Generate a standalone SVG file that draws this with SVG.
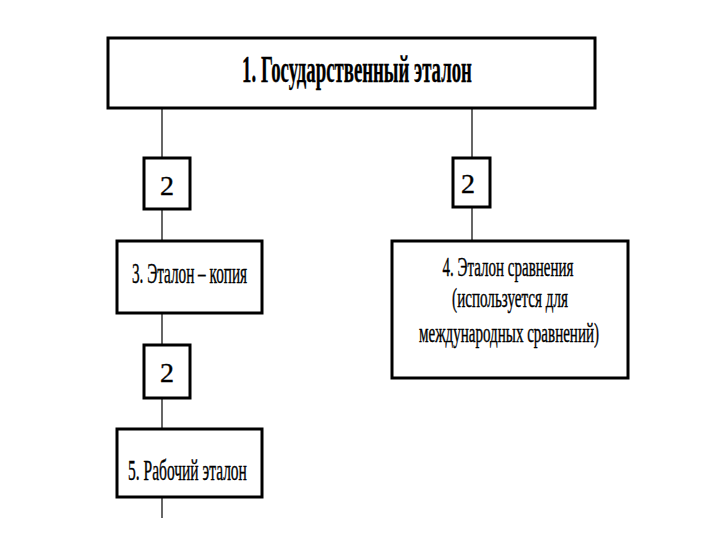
<svg xmlns="http://www.w3.org/2000/svg" width="720" height="540" viewBox="0 0 720 540">
<style>
.box{fill:#fff;stroke:#000;stroke-width:3}
.ln{stroke:#000;stroke-width:1.2;fill:none}
text{font-family:"Liberation Serif","Times New Roman",serif;fill:#000;text-anchor:middle;stroke:#000;stroke-width:0.4}
</style>
<rect width="720" height="540" fill="#fff"/>
<g id="connectors">
<line class="ln" x1="162" y1="108" x2="162" y2="158"/>
<line class="ln" x1="162" y1="209" x2="162" y2="241"/>
<line class="ln" x1="162" y1="313" x2="162" y2="345"/>
<line class="ln" x1="162" y1="398" x2="162" y2="429"/>
<line class="ln" x1="162" y1="497" x2="162" y2="518"/>
<line class="ln" x1="472" y1="108" x2="472" y2="158"/>
<line class="ln" x1="472" y1="207" x2="472" y2="241"/>
</g>
<g id="n1">
<rect class="box" x="108" y="38" width="487" height="70"/>
<text transform="translate(357,82) scale(0.6,1)" x="0" y="0" font-size="37" font-weight="bold" textLength="383" lengthAdjust="spacingAndGlyphs">1. Государственный эталон</text>
</g>
<g id="n2a">
<rect class="box" x="144" y="158" width="46" height="51"/>
<text x="167" y="195" font-size="28">2</text>
</g>
<g id="n2b">
<rect class="box" x="453" y="158" width="37" height="49"/>
<text x="468" y="193" font-size="28">2</text>
</g>
<g id="n3">
<rect class="box" x="117" y="241" width="145" height="72"/>
<text transform="translate(189.5,283) scale(0.6,1)" x="0" y="0" font-size="29" textLength="192" lengthAdjust="spacingAndGlyphs">3. Эталон – копия</text>
</g>
<g id="n4">
<rect class="box" x="392" y="241" width="236" height="137"/>
<text transform="translate(508,276) scale(0.6,1)" x="0" y="0" font-size="28" textLength="218" lengthAdjust="spacingAndGlyphs">4. Эталон сравнения</text>
<text transform="translate(510,307) scale(0.6,1)" x="0" y="0" font-size="28" textLength="193" lengthAdjust="spacingAndGlyphs">(используется для</text>
<text transform="translate(509,342) scale(0.6,1)" x="0" y="0" font-size="28" textLength="300" lengthAdjust="spacingAndGlyphs">международных сравнений)</text>
</g>
<g id="n2c">
<rect class="box" x="144" y="345" width="46" height="53"/>
<text x="167" y="382" font-size="28">2</text>
</g>
<g id="n5">
<rect class="box" x="117" y="429" width="145" height="68"/>
<text transform="translate(187.5,480) scale(0.6,1)" x="0" y="0" font-size="29" textLength="198" lengthAdjust="spacingAndGlyphs">5. Рабочий эталон</text>
</g>
</svg>
